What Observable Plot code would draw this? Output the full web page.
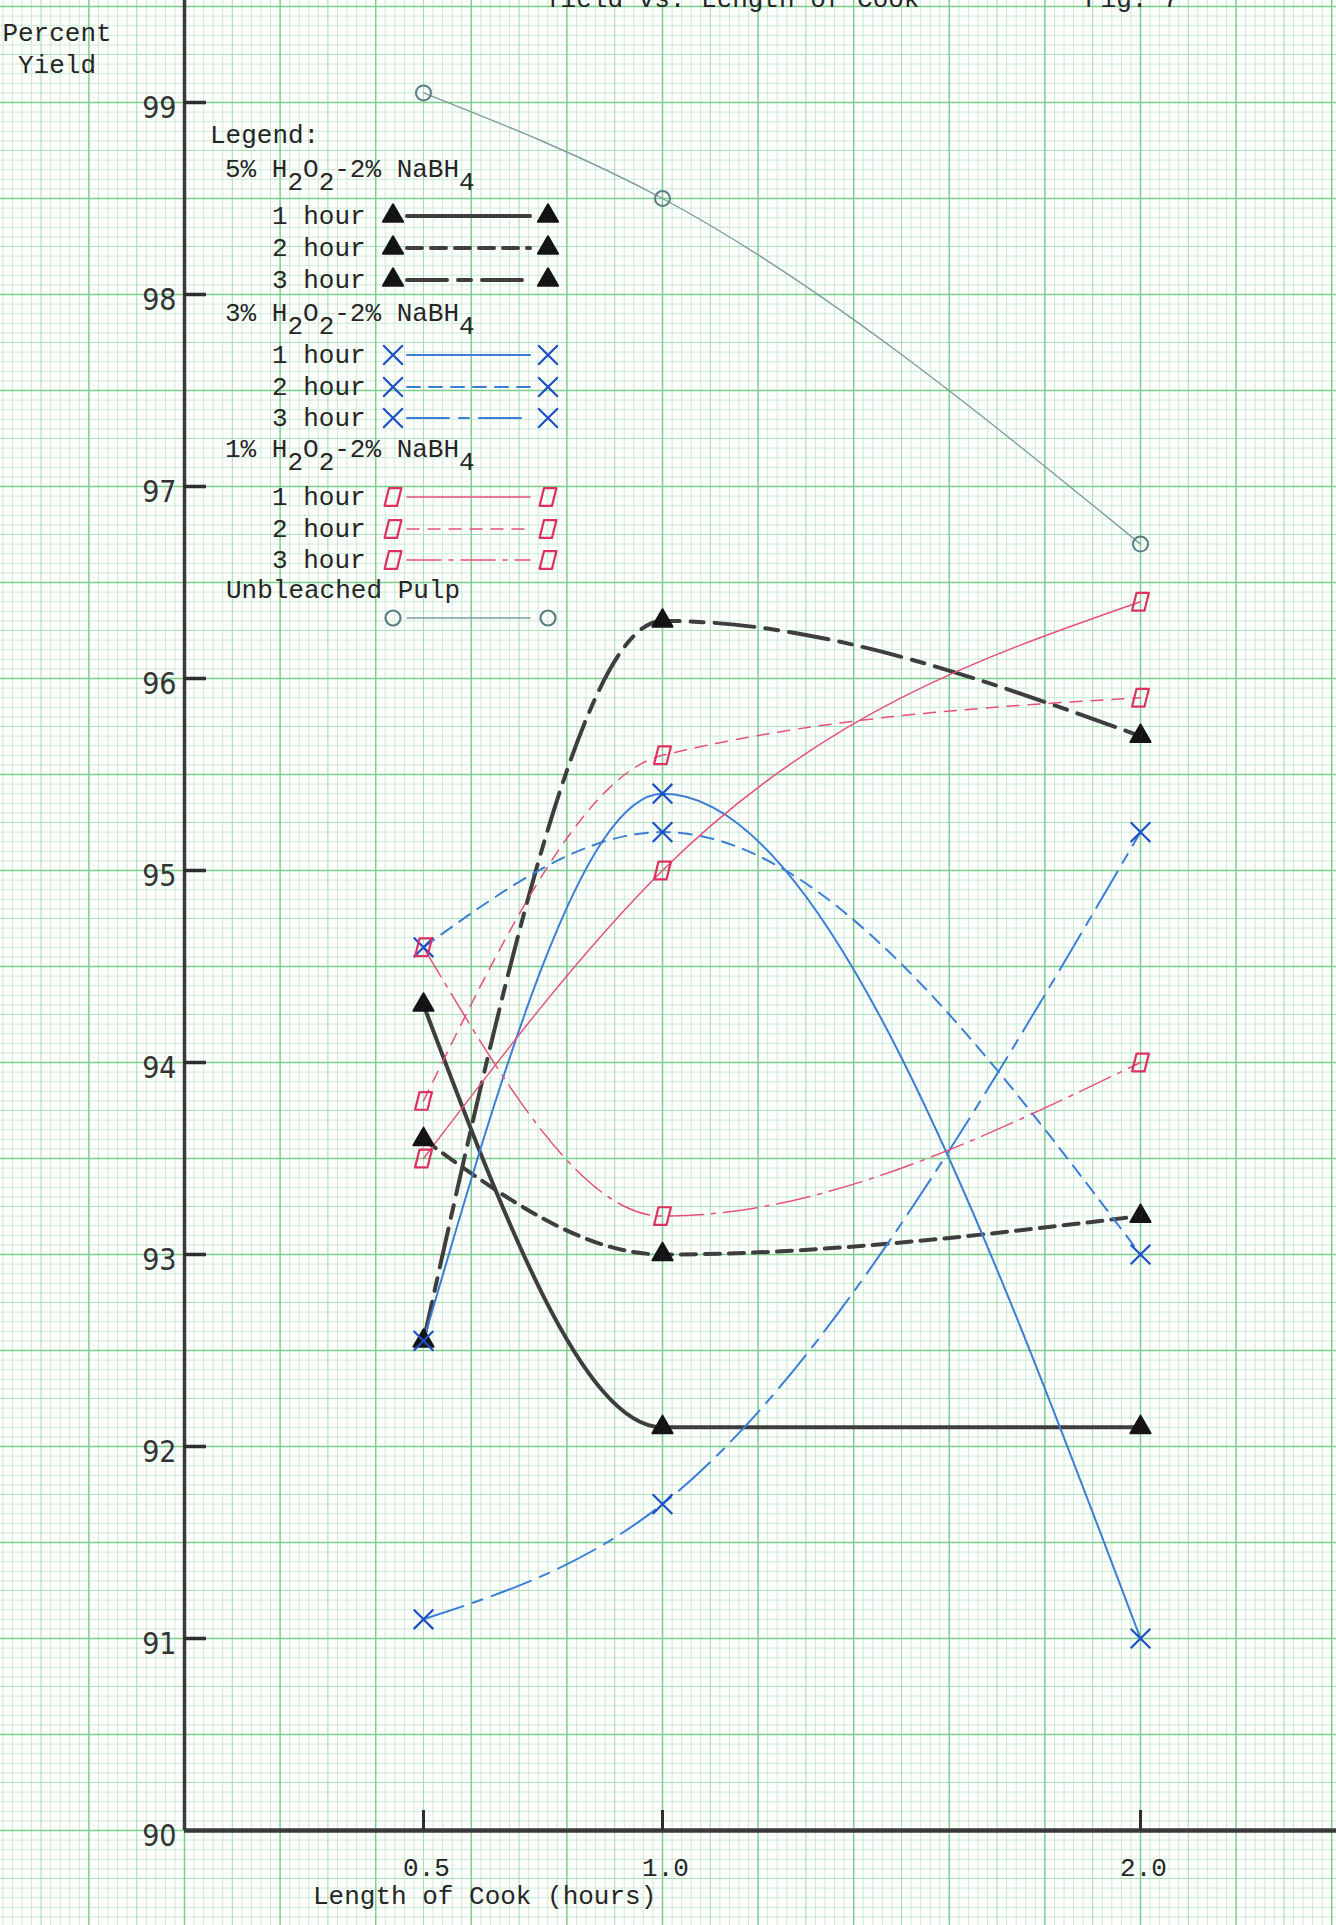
<!DOCTYPE html>
<html>
<head>
<meta charset="utf-8">
<script src="https://cdn.jsdelivr.net/npm/d3@7"></script>
<script src="https://cdn.jsdelivr.net/npm/@observablehq/plot@0.6"></script>
<style>
  html, body { margin: 0; padding: 0; background: #fefffd; overflow: hidden; }
  #chart { position: relative; width: 1336px; height: 1925px; }
</style>
</head>
<body>
<div id="chart"></div>
<script>
// Length of cook (hours) at which each bleaching run was sampled
const cookHours = [0.5, 1.0, 2.0];
const xTickValues = [0.5, 1.0, 2.0];
const xTickLabels = ["0.5", "1.0", "2.0"];
const yTickValues = [90, 91, 92, 93, 94, 95, 96, 97, 98, 99];

// Percent yield, 5% H2O2 - 2% NaBH4
const yield5pct1h = [94.3, 92.1, 92.1];
const yield5pct2h = [93.6, 93.0, 93.2];
const yield5pct3h = [92.55, 96.3, 95.7];
// Percent yield, 3% H2O2 - 2% NaBH4
const yield3pct1h = [92.55, 95.4, 91.0];
const yield3pct2h = [94.6, 95.2, 93.0];
const yield3pct3h = [91.1, 91.7, 95.2];
// Percent yield, 1% H2O2 - 2% NaBH4
const yield1pct1h = [93.5, 95.0, 96.4];
const yield1pct2h = [93.8, 95.6, 95.9];
const yield1pct3h = [94.6, 93.2, 94.0];
// Unbleached pulp
const yieldUnbleached = [99.05, 98.5, 96.7];

const groupLabels = ["5%", "3%", "1%"];
const hourLabels = ["1 hour", "2 hour", "3 hour"];

// ---- page geometry ----
const W = 1336, H = 1925;
const marginLeft = 184, marginBottom = 95;
const pxPerHour = 478, pxPerPercent = 192;

const mono = "'Liberation Mono', 'DejaVu Sans Mono', monospace";
const lettering = "'Liberation Sans Narrow', 'DejaVu Sans Condensed', Roboto, sans-serif";

// hand-drawn parallelogram used for the 1% runs
const skewSquare = {
  draw(context, size) {
    const h = Math.sqrt(size) * 0.5;
    context.moveTo(-0.45 * h, -h);
    context.lineTo(0.95 * h, -h);
    context.lineTo(0.45 * h, h);
    context.lineTo(-0.95 * h, h);
    context.closePath();
  }
};

const groupStyle = {
  "5%": {line: "#3e3e3e", width: 4, marker: "#141414", symbol: "triangle", r: 7.5, filled: true,
         dashes: [null, "15,9", "40,11,13,11"]},
  "3%": {line: "#3c7ed6", width: 2, marker: "#1e4fc6", symbol: "times", r: 9, filled: false,
         dashes: [null, "13,9", "42,10,10,10"]},
  "1%": {line: "#e6507a", width: 1.5, marker: "#df315f", symbol: skewSquare, r: 10, filled: false,
         dashes: [null, "12,9", "34,8,4,8"]}
};

const runValues = {
  "5%": [yield5pct1h, yield5pct2h, yield5pct3h],
  "3%": [yield3pct1h, yield3pct2h, yield3pct3h],
  "1%": [yield1pct1h, yield1pct2h, yield1pct3h]
};

const toRows = values => cookHours.map((h, i) => ({hours: h, yield: values[i]}));

// ---- graph paper ----
const gridX = d3.range(-19, 122).map(i => ({v: i * 0.02, level: i % 10 === 0 ? 2 : (i % 5 === 0 ? 1 : 0)}));
const gridY = d3.range(-10, 192).map(i => ({v: 90 + i * 0.05, level: i % 10 === 0 ? 2 : (i % 5 === 0 ? 1 : 0)}));
const gridStroke = ["#c3e9d2", "#a8ddb8", "#7ccd8e"];
const gridWidth = [0.9, 1.1, 1.5];

const marks = [];
for (const level of [0, 1, 2]) {
  marks.push(Plot.ruleX(gridX.filter(d => d.level === level), {x: "v", y1: 89.4, y2: 99.7, stroke: gridStroke[level], strokeWidth: gridWidth[level]}));
  marks.push(Plot.ruleY(gridY.filter(d => d.level === level), {y: "v", x1: -0.5, x2: 2.5, stroke: gridStroke[level], strokeWidth: gridWidth[level]}));
}

// ---- axes ----
marks.push(Plot.ruleX([0], {y1: 90, y2: 99.7, stroke: "#3a3a3a", strokeWidth: 3.5}));
marks.push(Plot.ruleY([90], {x1: 0, x2: 2.5, stroke: "#3a3a3a", strokeWidth: 4.5}));
marks.push(Plot.tickY(yTickValues.filter(d => d > 90), {y: d => d, stroke: "#2e2e2e", strokeWidth: 3.5, insetRight: (W - marginLeft) - 22}));
marks.push(Plot.tickX(xTickValues, {x: d => d, stroke: "#2e2e2e", strokeWidth: 3, insetTop: (H - marginBottom) - 20}));
marks.push(Plot.text(yTickValues, {y: d => d, frameAnchor: "left", text: d => String(d), textAnchor: "end",
  dx: -8, dy: 6, fontSize: 30, fontFamily: lettering, fill: "#333"}));
marks.push(Plot.text(xTickValues, {x: d => d, frameAnchor: "bottom", text: (d, i) => xTickLabels[i],
  dx: 3, dy: 45, lineAnchor: "bottom", fontSize: 26, fontFamily: mono, fill: "#262626"}));

// ---- unbleached pulp ----
const unbleachedRows = toRows(yieldUnbleached);
marks.push(Plot.line(unbleachedRows, {x: "hours", y: "yield", curve: "monotone-x", stroke: "#7d9ca1", strokeWidth: 1.4}));
marks.push(Plot.dot(unbleachedRows, {x: "hours", y: "yield", symbol: "circle", r: 7.5, fill: "none", stroke: "#5a7c83", strokeWidth: 2}));

// ---- bleached runs: curves first, markers on top ----
for (const g of groupLabels) {
  const st = groupStyle[g];
  runValues[g].forEach((values, k) => {
    marks.push(Plot.line(toRows(values), {x: "hours", y: "yield", curve: "monotone-x",
      stroke: st.line, strokeWidth: st.width, strokeDasharray: st.dashes[k], strokeLinecap: "round"}));
  });
}
for (const g of groupLabels) {
  const st = groupStyle[g];
  runValues[g].forEach(values => {
    marks.push(Plot.dot(toRows(values), {x: "hours", y: "yield", symbol: st.symbol, r: st.r,
      fill: st.filled ? st.marker : "none", stroke: st.marker, strokeWidth: st.filled ? 2 : 2.2,
      strokeLinejoin: "round"}));
  });
}

const chart = Plot.plot({
  width: W,
  height: H,
  marginLeft,
  marginRight: 0,
  marginTop: 0,
  marginBottom,
  x: {domain: [0, (W - marginLeft) / pxPerHour], axis: null},
  y: {domain: [90, 90 + (H - marginBottom) / pxPerPercent], axis: null},
  style: {background: "#fefffd", overflow: "hidden"},
  marks
});
document.getElementById("chart").append(chart);

// ---- typed annotations and legend ----
const svg = d3.select(chart);
const notes = svg.append("g")
  .attr("font-family", mono).attr("font-size", 26).attr("fill", "#262626")
  .attr("text-anchor", "start");

notes.append("text").attr("x", 545).attr("y", 7).text("Yield vs. Length of Cook");
notes.append("text").attr("x", 1085).attr("y", 7).text("Fig. 7");
notes.append("text").attr("x", 57).attr("y", 41).attr("text-anchor", "middle").text("Percent");
notes.append("text").attr("x", 57).attr("y", 73).attr("text-anchor", "middle").text("Yield");
notes.append("text").attr("x", 313).attr("y", 1904).text("Length of Cook (hours)");

notes.append("text").attr("x", 210).attr("y", 143).text("Legend:");

function header(pct, y) {
  const t = notes.append("text").attr("x", 225).attr("y", y);
  const parts = [[`${pct} H`, 0], ["2", 13], ["O", -13], ["2", 13], ["-2% NaBH", -13], ["4", 13]];
  for (const [s, dy] of parts) t.append("tspan").attr("dy", dy).text(s);
}

function sample(y, st, dash, symbol) {
  const leg = svg.append("g");
  leg.append("line").attr("x1", 407).attr("x2", 530).attr("y1", y).attr("y2", y)
    .attr("stroke", st.line).attr("stroke-width", st.width).attr("stroke-dasharray", dash)
    .attr("stroke-linecap", "round");
  const path = d3.symbol().type(symbol).size(Math.PI * st.r * st.r)();
  for (const x of [393, 548]) {
    leg.append("path").attr("d", path).attr("transform", `translate(${x},${y})`)
      .attr("fill", st.filled ? st.marker : "none").attr("stroke", st.marker)
      .attr("stroke-width", st.filled ? 2 : 2.2).attr("stroke-linejoin", "round");
  }
}

const symbolTypes = {"triangle": d3.symbolTriangle, "times": d3.symbolTimes};
const headerBaselines = [177, 321, 457];
const itemBaselines = [[224, 256, 288], [363, 395, 426], [505, 537, 568]];
groupLabels.forEach((g, gi) => {
  const st = groupStyle[g];
  header(g, headerBaselines[gi]);
  hourLabels.forEach((label, k) => {
    const y = itemBaselines[gi][k];
    notes.append("text").attr("x", 272).attr("y", y).text(label);
    const sym = typeof st.symbol === "string" ? symbolTypes[st.symbol] : st.symbol;
    sample(y - 8, st, st.dashes[k], sym);
  });
});

notes.append("text").attr("x", 226).attr("y", 598).text("Unbleached Pulp");
sample(618, {line: "#7d9ca1", width: 1.4, marker: "#5a7c83", r: 7.5, filled: false}, null, d3.symbolCircle);
</script>
</body>
</html>
